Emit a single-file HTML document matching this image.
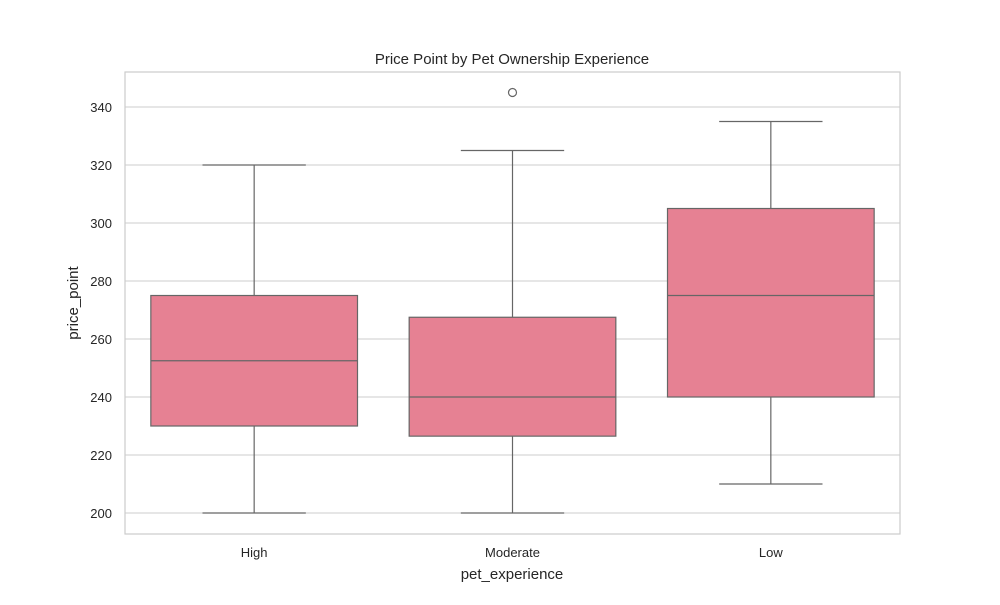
<!DOCTYPE html>
<html><head><meta charset="utf-8"><style>
body{margin:0;background:#fff;font-family:"Liberation Sans",sans-serif;}
svg text{font-family:"Liberation Sans",sans-serif;fill:#262626;}
</style></head><body>
<svg id="chart" width="1000" height="600">
<rect x="0" y="0" width="1000" height="600" fill="#fff"/>
<text x="512" y="64" font-size="15" text-anchor="middle">Price Point by Pet Ownership Experience</text>
<g id="grid"></g>
<g id="boxes"></g>
<rect x="125" y="72" width="775" height="462" fill="none" stroke="#cccccc" stroke-width="1.2"/>
<text x="512" y="579" font-size="15" text-anchor="middle">pet_experience</text>
<text transform="translate(78,303) rotate(-90)" font-size="15" text-anchor="middle">price_point</text>
</svg>
<script>
const categories = ["High","Moderate","Low"];
const whiskerLow = [200,200,210];
const q1 = [230,226.5,240];
const medians = [252.5,240,275];
const q3 = [275,267.5,305];
const whiskerHigh = [320,325,335];
const outliers = [[],[345],[]];
const yTicks = [200,220,240,260,280,300,320,340];

const NS="http://www.w3.org/2000/svg";
const pL=125,pR=900,pT=72,pB=534;
const yMin=192.76,yMax=352.07;
function y(v){return pB-(v-yMin)/(yMax-yMin)*(pB-pT);}
const band=(pR-pL)/categories.length;
function xc(i){return pL+band*(i+0.5);}
function mk(tag,attrs,parent){const e=document.createElementNS(NS,tag);for(const k in attrs)e.setAttribute(k,attrs[k]);parent.appendChild(e);return e;}
const grid=document.getElementById('grid');
const svg=document.getElementById('chart');
yTicks.forEach(t=>{
  const l=mk('line',{x1:pL,x2:pR,y1:y(t),y2:y(t),stroke:'#cccccc','stroke-width':1.1},grid);
  
  
  const tx=mk('text',{x:pL-13,y:y(t)+5,'font-size':13,'text-anchor':'end'},svg);
  tx.textContent=t;
  
  
});
const g=document.getElementById('boxes');
const bw=band*0.8,capw=bw*0.25,lc='#666666';
categories.forEach((c,i)=>{
  const x=xc(i);
  const grp=mk('g',{},g);
  
  
  mk('line',{x1:x,x2:x,y1:y(whiskerLow[i]),y2:y(q1[i]),stroke:lc,'stroke-width':1.2},grp);
  mk('line',{x1:x,x2:x,y1:y(q3[i]),y2:y(whiskerHigh[i]),stroke:lc,'stroke-width':1.2},grp);
  mk('line',{x1:x-capw,x2:x+capw,y1:y(whiskerLow[i]),y2:y(whiskerLow[i]),stroke:lc,'stroke-width':1.2},grp);
  mk('line',{x1:x-capw,x2:x+capw,y1:y(whiskerHigh[i]),y2:y(whiskerHigh[i]),stroke:lc,'stroke-width':1.2},grp);
  mk('rect',{x:x-bw/2,y:y(q3[i]),width:bw,height:y(q1[i])-y(q3[i]),fill:'#e68193',stroke:lc,'stroke-width':1.2},grp);
  mk('line',{x1:x-bw/2,x2:x+bw/2,y1:y(medians[i]),y2:y(medians[i]),stroke:lc,'stroke-width':1.2},grp);
  outliers[i].forEach(o=>{
    const ci=mk('circle',{cx:x,cy:y(o),r:4,fill:'none',stroke:lc,'stroke-width':1.2},grp);
    
    
  });
  const tx=mk('text',{x:x,y:557,'font-size':13,'text-anchor':'middle'},svg);
  tx.textContent=c;
  
  
});
</script>
</body></html>
